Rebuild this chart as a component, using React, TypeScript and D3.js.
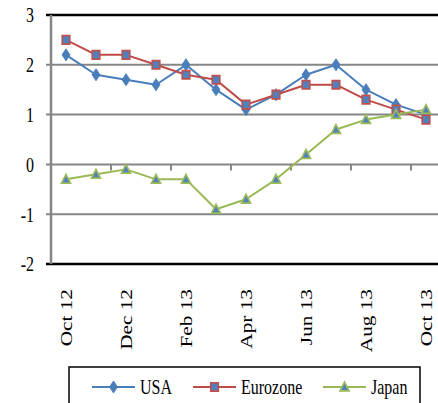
import { useEffect, useRef } from 'react';
import * as d3 from 'd3';

const months = [
  'Oct 12', 'Nov 12', 'Dec 12', 'Jan 13', 'Feb 13', 'Mar 13', 'Apr 13',
  'May 13', 'Jun 13', 'Jul 13', 'Aug 13', 'Sep 13', 'Oct 13',
];
const usa = [2.2, 1.8, 1.7, 1.6, 2.0, 1.5, 1.1, 1.4, 1.8, 2.0, 1.5, 1.2, 1.0];
const eurozone = [2.5, 2.2, 2.2, 2.0, 1.8, 1.7, 1.2, 1.4, 1.6, 1.6, 1.3, 1.1, 0.9];
const japan = [-0.3, -0.2, -0.1, -0.3, -0.3, -0.9, -0.7, -0.3, 0.2, 0.7, 0.9, 1.0, 1.1];
const yTicks = [-2, -1, 0, 1, 2, 3];

const series = [
  { name: 'USA', values: usa, line: '#4a7ebb', fill: '#4a7ebb', stroke: '#4a7ebb', shape: 'diamond' },
  { name: 'Eurozone', values: eurozone, line: '#be4b48', fill: '#4f81bd', stroke: '#c0504d', shape: 'square' },
  { name: 'Japan', values: japan, line: '#98b954', fill: '#4f81bd', stroke: '#9bbb59', shape: 'triangle' },
];

const W = 438, H = 403;
const SY = 1.33; // the picture is stretched vertically
const FONT = 'Liberation Serif';

function markerPath(shape: string) {
  if (shape === 'diamond') return 'M0,-5.5L4,0L0,5.5L-4,0Z';
  if (shape === 'square') return 'M-3.8,-3.8H3.8V3.8H-3.8Z';
  return 'M0,-4.5L4.5,3.5L-4.5,3.5Z';
}

export default function App() {
  const svgRef = useRef<SVGSVGElement>(null);

  useEffect(() => {
    const svg = d3.select(svgRef.current);
    svg.selectAll('*').remove();

    const left = 51, right = 441, top = 15, bottom = 264;

    const x = d3.scaleBand<string>().domain(months).range([left, right]);
    const y = d3.scaleLinear().domain([-2, 3]).range([bottom, top]);
    const cx = (m: string) => (x(m) ?? 0) + x.bandwidth() / 2;

    // gridlines + left tick marks
    yTicks.forEach(t => {
      const edge = t === 3 || t === -2;
      svg.append('line')
        .attr('x1', left - 5).attr('x2', W)
        .attr('y1', y(t)).attr('y2', y(t))
        .attr('stroke', edge ? '#000' : '#868686')
        .attr('stroke-width', edge ? 2.5 : 2);
      svg.append('text')
        .attr('transform', `translate(34,${y(t)}) scale(1,${SY})`)
        .attr('dy', '0.35em')
        .attr('text-anchor', 'end')
        .style('font-family', FONT).attr('font-size', 16).attr('fill', '#000')
        .text(String(t));
    });

    // left axis
    svg.append('line')
      .attr('x1', left).attr('x2', left)
      .attr('y1', top).attr('y2', bottom)
      .attr('stroke', '#868686').attr('stroke-width', 2.5);

    // category tick marks on the zero line (every second boundary)
    months.forEach((m, i) => {
      if (i === 0 || i % 2 !== 0) return;
      const bx = x(m) ?? 0;
      svg.append('line')
        .attr('x1', bx).attr('x2', bx)
        .attr('y1', y(0)).attr('y2', y(0) + 6)
        .attr('stroke', '#868686').attr('stroke-width', 2);
    });

    // rotated month labels
    months.forEach((m, i) => {
      if (i % 2 !== 0) return;
      svg.append('text')
        .attr('transform', `translate(${cx(m)},289) scale(1,${SY}) rotate(-90)`)
        .attr('dy', '0.35em')
        .attr('text-anchor', 'end')
        .style('font-family', FONT).attr('font-size', 16).attr('fill', '#000')
        .text(m);
    });

    const line = d3.line<number>()
      .x((_, i) => cx(months[i]))
      .y(d => y(d));

    series.forEach(s => {
      svg.append('path')
        .datum(s.values)
        .attr('d', line)
        .attr('fill', 'none')
        .attr('stroke', s.line)
        .attr('stroke-width', 2)
        .attr('stroke-linejoin', 'round');
      s.values.forEach((v, i) => {
        svg.append('path')
          .attr('d', markerPath(s.shape))
          .attr('transform', `translate(${cx(months[i])},${y(v)}) scale(1,1.1)`)
          .attr('fill', s.fill)
          .attr('stroke', s.stroke)
          .attr('stroke-width', s.shape === 'diamond' ? 0.8 : 1.6);
      });
    });

    // legend
    svg.append('rect')
      .attr('x', 69).attr('y', 367).attr('width', 351).attr('height', 45)
      .attr('fill', '#fff').attr('stroke', '#000').attr('stroke-width', 1.5);

    const legendX = [92, 193, 323];
    const ly = 387;
    series.forEach((s, i) => {
      const lx = legendX[i];
      svg.append('line')
        .attr('x1', lx).attr('x2', lx + 43)
        .attr('y1', ly).attr('y2', ly)
        .attr('stroke', s.line).attr('stroke-width', 2);
      svg.append('path')
        .attr('d', markerPath(s.shape))
        .attr('transform', `translate(${lx + 21.5},${ly}) scale(1,1.1)`)
        .attr('fill', s.fill).attr('stroke', s.stroke)
        .attr('stroke-width', s.shape === 'diamond' ? 0.8 : 1.6);
      svg.append('text')
        .attr('transform', `translate(${lx + 48},${ly}) scale(1,${SY})`)
        .attr('dy', '0.35em')
        .style('font-family', FONT).attr('font-size', 16).attr('fill', '#000')
        .text(s.name);
    });
  }, []);

  return (
    <svg
      ref={svgRef}
      width={W}
      height={H}
      style={{ position: 'absolute', left: 0, top: 0, background: '#fff' }}
    />
  );
}
